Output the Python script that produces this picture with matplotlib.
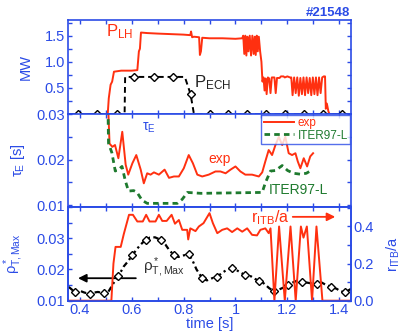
import numpy as np
import matplotlib
matplotlib.use("Agg")
import matplotlib.pyplot as plt
from matplotlib.ticker import MultipleLocator, FormatStrFormatter

plt.rcParams['font.family'] = ['Liberation Sans', 'DejaVu Sans']
plt.rcParams['mathtext.fontset'] = 'custom'
plt.rcParams['mathtext.rm'] = 'Liberation Sans'
plt.rcParams['mathtext.it'] = 'Liberation Sans:italic'

BLUE = '#2b4be6'
RED = '#ff3010'
GREEN = '#1e7a2e'

# ---- data: lower hybrid power (MW)
t_lh = [0.355, 0.508, 0.512, 0.519, 0.525, 0.532, 0.56, 0.6, 0.622, 0.628, 0.632, 0.636,
        0.66, 0.7, 0.75, 0.8, 0.826, 0.829, 0.833, 0.84, 0.86, 0.863, 0.867, 0.872, 0.9,
        0.95, 1.0, 1.026, 1.03, 1.034, 1.038, 1.042, 1.046, 1.05, 1.055, 1.06, 1.065,
        1.07, 1.074, 1.078, 1.082, 1.086, 1.09, 1.095, 1.1, 1.104, 1.108, 1.112, 1.116,
        1.12, 1.125, 1.13, 1.135, 1.14, 1.15, 1.155, 1.16, 1.17, 1.175, 1.185, 1.19, 1.2,
        1.21, 1.215, 1.22, 1.226, 1.232, 1.238, 1.244, 1.25, 1.256, 1.262, 1.268, 1.274,
        1.28, 1.286, 1.292, 1.298, 1.304, 1.31, 1.316, 1.322, 1.328, 1.334, 1.34, 1.345,
        1.348, 1.352, 1.358, 1.362, 1.445]
p_lh = [0, 0, 0.3, 0.56, 0.62, 0.81, 0.83, 0.83, 0.84, 1.2, 1.25, 1.56,
        1.55, 1.54, 1.53, 1.52, 1.51, 1.58, 1.47, 1.48, 1.47, 1.13, 1.2, 1.46, 1.45,
        1.45, 1.44, 1.45, 1.5, 1.15, 1.5, 1.12, 1.48, 1.2, 1.5, 1.12, 1.5,
        1.15, 1.48, 1.13, 1.5, 1.2, 1.48, 1.2, 1.0, 0.62, 0.7, 0.45, 0.68,
        0.38, 0.7, 0.68, 0.4, 0.7, 0.7, 0.4, 0.69, 0.69, 0.72, 0.72, 0.7, 0.72,
        0.7, 0.7, 0.36, 0.7, 0.4, 0.7, 0.35, 0.69, 0.38, 0.7, 0.36, 0.7,
        0.4, 0.69, 0.36, 0.7, 0.38, 0.7, 0.36, 0.7, 0.4, 0.7, 0.72, 0.72,
        0.1, 0.2, 0.05, 0, 0]

# ECH power (MW)
t_ech = [0.355, 0.573, 0.575, 0.805, 0.827, 0.84, 0.842, 1.445]
p_ech = [0, 0, 0.71, 0.71, 0.38, 0, 0, 0]
t_ech_mk = [0.392, 0.465, 0.542, 0.608, 0.685, 0.758, 0.827, 0.9, 0.973, 1.046,
            1.119, 1.192, 1.265, 1.338, 1.412]
p_ech_mk = [0, 0, 0, 0.71, 0.71, 0.71, 0.38, 0, 0, 0, 0, 0, 0, 0, 0]

# ---- confinement time (s)
t_tau = [0.51, 0.515, 0.526, 0.536, 0.549, 0.564, 0.577, 0.587, 0.603, 0.618, 0.635,
         0.647, 0.66, 0.673, 0.686, 0.705, 0.727, 0.744, 0.763, 0.782, 0.801, 0.82,
         0.836, 0.853, 0.872, 0.897, 0.923, 0.942, 0.962, 0.981, 1.0, 1.019, 1.038,
         1.064, 1.09, 1.103, 1.115, 1.128, 1.141, 1.154, 1.167, 1.18, 1.192, 1.205,
         1.218, 1.231, 1.24, 1.25, 1.263, 1.276, 1.288, 1.299]
tau_exp = [0.031, 0.0235, 0.0228, 0.0232, 0.0203, 0.0261, 0.0189, 0.0167, 0.0192, 0.021,
           0.0178, 0.0148, 0.017, 0.0167, 0.0172, 0.0167, 0.0178, 0.016, 0.0163, 0.0163,
           0.0181, 0.021, 0.0192, 0.0167, 0.0163, 0.0167, 0.0174, 0.0174, 0.017, 0.0178,
           0.0185, 0.0174, 0.0167, 0.0167, 0.0163, 0.0172, 0.0196, 0.0221, 0.021, 0.0232,
           0.025, 0.0232, 0.025, 0.0214, 0.021, 0.0214, 0.0196, 0.0181, 0.0203, 0.0185,
           0.0207, 0.0214]

t_iter = [0.509, 0.511, 0.524, 0.537, 0.55, 0.563, 0.576, 0.588, 0.608, 0.621, 0.64,
          0.66, 0.776, 0.795, 0.815, 0.867, 1.103, 1.115, 1.135, 1.154, 1.18, 1.201,
          1.224, 1.25, 1.273, 1.288]
tau_iter = [0.031, 0.0236, 0.0215, 0.0175, 0.0178, 0.0185, 0.0153, 0.0131, 0.0132,
            0.0128, 0.0111, 0.0104, 0.0104, 0.0113, 0.0128, 0.0126, 0.0128, 0.0149,
            0.0175, 0.0176, 0.0187, 0.0176, 0.017, 0.0168, 0.017, 0.0175]

# ---- rho*_T,Max
t_rho = [0.358, 0.382, 0.40, 0.415, 0.438, 0.455, 0.47, 0.494, 0.51, 0.526, 0.547, 0.56,
         0.57, 0.585, 0.603, 0.62, 0.635, 0.654, 0.67, 0.69, 0.712, 0.73, 0.745, 0.763,
         0.78, 0.80, 0.82, 0.835, 0.85, 0.872, 0.89, 0.91, 0.93, 0.95, 0.965, 0.985, 1.0,
         1.02, 1.038, 1.06, 1.075, 1.092, 1.11, 1.13, 1.147, 1.165, 1.185, 1.203, 1.22,
         1.24, 1.256, 1.275, 1.295, 1.314, 1.33, 1.35, 1.369, 1.39, 1.405, 1.423, 1.445]
rho = [0.0144, 0.0127, 0.0132, 0.0127, 0.0121, 0.0126, 0.0128, 0.0124, 0.0128, 0.015,
       0.018, 0.0195, 0.021, 0.0225, 0.0246, 0.0265, 0.028, 0.0295, 0.0302, 0.0303,
       0.0295, 0.028, 0.0262, 0.0246, 0.024, 0.0245, 0.0249, 0.0228, 0.02, 0.0172,
       0.0165, 0.0172, 0.0177, 0.019, 0.0198, 0.0204, 0.02, 0.019, 0.0182, 0.0178, 0.017,
       0.0163, 0.0155, 0.014, 0.0131, 0.0135, 0.0142, 0.015, 0.0158, 0.0165, 0.0161,
       0.0158, 0.0155, 0.0153, 0.0159, 0.015, 0.0145, 0.0138, 0.013, 0.0127, 0.0138]
t_rho_mk = [0.382, 0.438, 0.494, 0.547, 0.603, 0.654, 0.712, 0.763, 0.82, 0.872, 0.93,
            0.985, 1.038, 1.092, 1.147, 1.203, 1.256, 1.314, 1.369, 1.423]
rho_mk = [0.0127, 0.0121, 0.0124, 0.018, 0.0246, 0.0295, 0.0295, 0.0246, 0.0249, 0.0172,
          0.0177, 0.0204, 0.0182, 0.0163, 0.0131, 0.015, 0.0161, 0.0153, 0.0145, 0.0127]

# ---- r_ITB/a
t_itb = [0.355, 0.522, 0.53, 0.538, 0.558, 0.57, 0.59, 0.605, 0.622, 0.643, 0.656, 0.669,
         0.692, 0.705, 0.718, 0.735, 0.754, 0.767, 0.782, 0.795, 0.814, 0.818, 0.826,
         0.833, 0.846, 0.859, 0.877, 0.9, 0.913, 0.93, 0.949, 0.968, 0.987, 1.007, 1.026,
         1.045, 1.064, 1.083, 1.096, 1.115, 1.128, 1.135, 1.15, 1.168, 1.19, 1.212, 1.232,
         1.252, 1.262, 1.275, 1.295, 1.312, 1.335, 1.445]
r_itb = [0, 0, 0.2, 0.29, 0.29, 0.36, 0.463, 0.463, 0.427, 0.427, 0.463, 0.427,
         0.427, 0.463, 0.43, 0.43, 0.463, 0.415, 0.435, 0.382, 0.382, 0.33, 0.39,
         0.385, 0.375, 0.40, 0.418, 0.472, 0.418, 0.364, 0.382, 0.39, 0.37, 0.39, 0.372,
         0.39, 0.355, 0.352, 0.382, 0.39, 0.364, 0.39, 0.0, 0.4, 0.0, 0.4, 0.0,
         0.4, 0.34, 0.4, 0.0, 0.4, 0.0, 0.0]

# ---- figure
fig = plt.figure(figsize=(4.01, 3.34), dpi=100)
L, W = 0.1696, 0.7057
ax1 = fig.add_axes([L, 0.6587, W, 0.2814])
ax2 = fig.add_axes([L, 0.3802, W, 0.2784])
ax3 = fig.add_axes([L, 0.0997, W, 0.2805])
ax4 = ax3.twinx()

for ax in (ax1, ax2, ax3, ax4):
    for s in ax.spines.values():
        s.set_color(BLUE)
        s.set_linewidth(1.2)
    ax.set_xlim(0.355, 1.445)
    ax.xaxis.set_major_locator(MultipleLocator(0.2))
    ax.xaxis.set_minor_locator(MultipleLocator(0.1))
    ax.tick_params(which='both', direction='in', length=3, width=1, colors=BLUE,
                   labelsize=10.5, top=True, right=True, pad=2)
ax3.tick_params(which='both', right=False)
ax4.tick_params(which='both', left=False, top=False, bottom=False)
for ax in (ax1, ax2):
    ax.tick_params(labelbottom=False)
ax3.xaxis.set_major_formatter(FormatStrFormatter('%g'))

# top panel
ax1.plot(t_lh, p_lh, color=RED, lw=1.4)
ax1.plot(t_ech, p_ech, color='black', lw=1.4, ls=(0, (3, 2)), clip_on=False)
ax1.plot(t_ech_mk, p_ech_mk, ls='none', marker='D', ms=4.5, mfc='white', mec='black',
         mew=1, clip_on=False, zorder=5)
ax1.set_ylim(0, 1.8)
ax1.set_yticks([0.5, 1.0, 1.5])
ax1.set_yticklabels(['0.5', '1.0', '1.5'])
ax1.yaxis.set_minor_locator(MultipleLocator(0.25))
ax1.set_ylabel('MW', color=BLUE, fontsize=10.5)
ax1.yaxis.set_label_coords(-0.125, 0.5)
ax1.text(0.5, 1.48, r'P$_{\rm LH}$', color=RED, fontsize=12)
ax1.text(0.84, 0.52, r'P$_{\rm ECH}$', color='#222222', fontsize=12)
fig.text(0.873, 0.961, '#21548', ha='right', va='center', color=BLUE,
         fontsize=9.5, fontweight='bold')

# middle panel
ax2.plot(t_tau, tau_exp, color=RED, lw=1.4, label='exp')
ax2.plot(t_iter, tau_iter, color=GREEN, lw=2, ls=(0, (2, 1.5)), label='ITER97-L')
ax2.set_ylim(0.0096, 0.03)
ax2.set_yticks([0.01, 0.02, 0.03])
ax2.set_yticklabels(['0.01', '0.02', '0.03'])
ax2.yaxis.set_minor_locator(MultipleLocator(0.005))
ax2.set_ylabel('τ$_{\\rm E}$ [s]', color=BLUE, fontsize=10.5)
ax2.yaxis.set_label_coords(-0.145, 0.5)
ax2.text(0.64, 0.0264, 'τ$_{\\rm E}$', color=BLUE, fontsize=10)
ax2.text(0.895, 0.0193, 'exp', color=RED, fontsize=10)
ax2.text(1.13, 0.0125, 'ITER97-L', color=GREEN, fontsize=10)
leg = ax2.legend(loc='upper right', fontsize=8.5, frameon=True, fancybox=False,
                 edgecolor=BLUE, borderaxespad=0.05, handlelength=2.6,
                 labelcolor='linecolor', borderpad=0.2, labelspacing=0.05,
                 handletextpad=0.3)
leg.get_frame().set_linewidth(1)

# bottom panel
ax3.plot(t_rho, rho, color='black', lw=1.6, ls=(0, (2.5, 1.5, 1, 1.5)), zorder=3)
ax3.plot(t_rho_mk, rho_mk, ls='none', marker='D', ms=4.5, mfc='white', mec='black',
         mew=1, zorder=4)
ax3.set_ylim(0.01, 0.04)
ax3.set_yticks([0.01, 0.02, 0.03])
ax3.set_yticklabels(['0.01', '0.02', '0.03'])
ax3.yaxis.set_minor_locator(MultipleLocator(0.005))
ax3.set_ylabel('ρ$^*_{\\rm T,Max}$', color=BLUE, fontsize=10.5)
ax3.yaxis.set_label_coords(-0.15, 0.5)
ax3.set_xlabel('time [s]', color=BLUE, fontsize=10.5, labelpad=0)
ax3.text(0.642, 0.0195, 'ρ$^*_{\\rm T,Max}$', color='#333333', fontsize=11)
ax3.annotate('', xy=(0.383, 0.0172), xytext=(0.627, 0.0172),
             arrowprops=dict(arrowstyle='-|>', color='black', lw=1.3,
                             mutation_scale=12))

ax4.plot(t_itb, r_itb, color=RED, lw=1.4)
ax4.set_ylim(0, 0.505)
ax4.set_yticks([0, 0.2, 0.4])
ax4.set_yticklabels(['0.0', '0.2', '0.4'])
ax4.yaxis.set_minor_locator(MultipleLocator(0.1))
ax4.set_xlim(0.355, 1.445)
ax4.set_ylabel(r'r$_{\rm ITB}$/a', color=BLUE, fontsize=10.5)
ax4.yaxis.set_label_coords(1.12, 0.5)
ax4.text(1.06, 0.425, r'r$_{\rm ITB}$/a', color=RED, fontsize=11.5)
ax4.annotate('', xy=(1.395, 0.452), xytext=(1.21, 0.452),
             arrowprops=dict(arrowstyle='-|>', color=RED, lw=1.3, mutation_scale=12))

fig.savefig('out.png', dpi=100)
